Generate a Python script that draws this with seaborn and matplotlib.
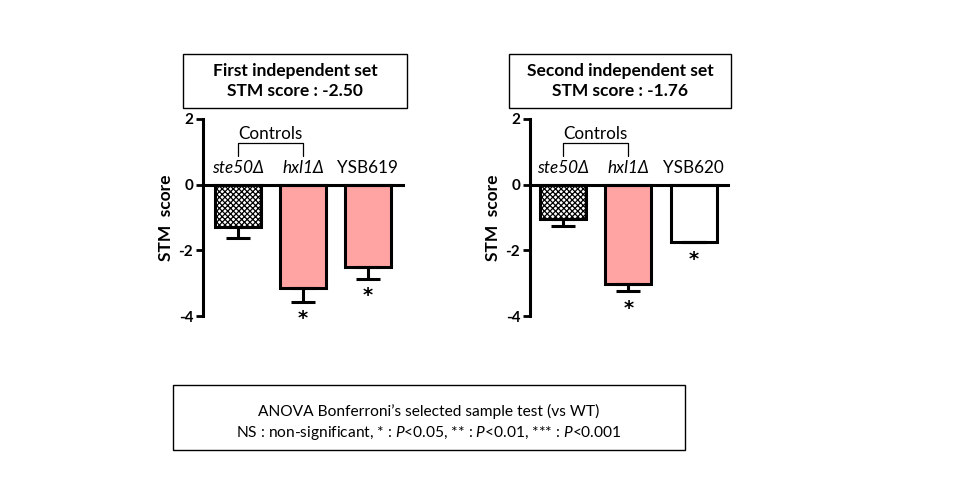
import matplotlib
matplotlib.use("Agg")
import matplotlib.pyplot as plt
import matplotlib.patches as mpatches
import seaborn as sns
import pandas as pd

# ---- data ----
strains1 = ["ste50Δ", "hxl1Δ", "YSB619"]
means1 = [-1.29, -3.15, -2.52]
sem1 = [0.34, 0.42, 0.35]
sig1 = ["", "*", "*"]

strains2 = ["ste50Δ", "hxl1Δ", "YSB620"]
means2 = [-1.04, -3.03, -1.76]
sem2 = [0.21, 0.22, 0.0]
sig2 = ["", "*", "*"]

italic_flags = [True, True, False]
titles = ["First independent set\nSTM score : -2.50",
          "Second independent set\nSTM score : -1.76"]
colors1 = ["white", "#FFA3A3", "#FFA3A3"]
colors2 = ["white", "#FFA3A3", "white"]
yticks = [-4, -2, 0, 2]

sns.set_theme(style="white")
plt.rcParams["font.family"] = ["Lato", "DejaVu Sans"]
plt.rcParams["mathtext.fontset"] = "custom"
plt.rcParams["mathtext.rm"] = "Lato"
plt.rcParams["mathtext.it"] = "Lato:italic"
plt.rcParams["mathtext.bf"] = "Lato:bold"
plt.rcParams["hatch.linewidth"] = 0.9
plt.rcParams["text.color"] = "black"
plt.rcParams["axes.labelcolor"] = "black"
plt.rcParams["xtick.color"] = "black"
plt.rcParams["ytick.color"] = "black"

fig = plt.figure(figsize=(9.6, 5.0), dpi=100)
fig.patch.set_facecolor("white")


def panel(rect, strains, means, sem, sig, colors, title, title_box, xlim):
    ax = fig.add_axes(rect)
    df = pd.DataFrame({"strain": strains, "score": means})
    sns.barplot(data=df, x="strain", y="score", hue="strain", palette=colors,
                legend=False, width=0.7, edgecolor="black", linewidth=2.2,
                errorbar=None, ax=ax, saturation=1)
    ax.patches[0].set_hatch("xxxxxx")
    xs = list(range(len(strains)))
    ax.errorbar(xs, means, yerr=[list(sem), [0] * len(sem)], fmt="none",
                ecolor="black", elinewidth=2.2, capsize=8.5, capthick=2.2,
                zorder=3)
    for x, m, s, star in zip(xs, means, sem, sig):
        if star:
            ax.text(x, m - s - 0.22, star, ha="center", va="top",
                    fontsize=14, fontweight="bold", family="DejaVu Sans",
                    color="black")
    # category labels above zero line
    for x, name, it in zip(xs, strains, italic_flags):
        ax.text(x, 0.25, name, ha="center", va="bottom", fontsize=12.3,
                style="italic" if it else "normal", color="black")
    # controls bracket
    ax.plot([0, 0, 1, 1], [0.88, 1.26, 1.26, 0.88], color="black", lw=0.9,
            clip_on=False)
    ax.text(0.5, 1.31, "Controls", ha="center", va="bottom", fontsize=12.3,
            color="black")

    ax.set_ylim(-4, 2)
    ax.set_xlim(*xlim)
    ax.set_yticks(yticks)
    ax.set_yticklabels([str(t) for t in yticks], fontweight="bold", fontsize=11)
    ax.set_ylabel("STM  score", fontweight="bold", fontsize=12.5, labelpad=3)
    ax.set_xlabel("")
    ax.set_xticks(xs)
    ax.set_xticklabels([])
    for side in ["top", "right"]:
        ax.spines[side].set_visible(False)
    ax.spines["bottom"].set_position(("data", 0))
    ax.spines["bottom"].set_zorder(5)
    for side in ["left", "bottom"]:
        ax.spines[side].set_color("black")
        ax.spines[side].set_linewidth(2.2)
    ax.tick_params(axis="y", direction="out", length=5, width=2, color="black",
                   labelcolor="black", left=True, pad=2)
    ax.tick_params(axis="x", direction="out", length=4.5, width=1.5,
                   color="black", bottom=True)
    ax.set_facecolor("none")

    bx0, by0, bw, bh = title_box
    fig.patches.append(mpatches.Rectangle((bx0, by0), bw, bh,
                                          transform=fig.transFigure,
                                          fill=False, edgecolor="black",
                                          linewidth=1.0))
    fig.text(bx0 + bw / 2, by0 + bh / 2, title, ha="center", va="center",
             fontsize=12.5, fontweight="bold", linespacing=1.3, color="black")
    return ax


panel([0.2115, 0.368, 0.2083, 0.394], strains1, means1, sem1, sig1, colors1,
      titles[0], (0.1906, 0.784, 0.2334, 0.108), (-0.54, 2.54))
panel([0.552, 0.368, 0.2063, 0.394], strains2, means2, sem2, sig2, colors2,
      titles[1], (0.530, 0.784, 0.2315, 0.108), (-0.5, 2.52))

# bottom legend box
fig.patches.append(mpatches.Rectangle((0.180, 0.100), 0.5335, 0.130,
                                      transform=fig.transFigure, fill=False,
                                      edgecolor="black", linewidth=1.0))
fig.text(0.447, 0.1767, "ANOVA Bonferroni\u2019s selected sample test (vs WT)",
         ha="center", va="center", fontsize=11.2, color="black")
fig.text(0.447, 0.134,
         "NS : non-significant, * : $P$<0.05, ** : $P$<0.01, *** : $P$<0.001",
         ha="center", va="center", fontsize=11.2, color="black")

fig.savefig("out.png", dpi=100, facecolor="white")
